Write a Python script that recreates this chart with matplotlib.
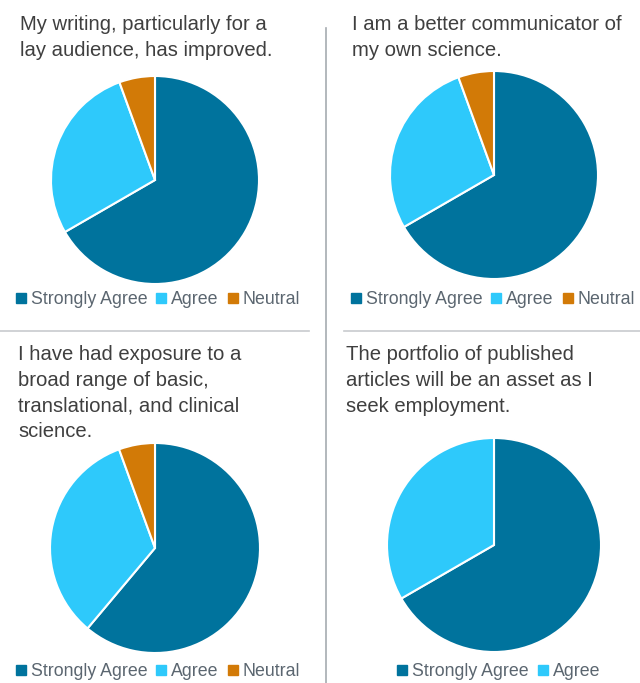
import matplotlib
matplotlib.use('Agg')
import matplotlib.pyplot as plt
from matplotlib.lines import Line2D

plt.rcParams['font.family'] = ['Liberation Sans', 'DejaVu Sans']

W, H = 640, 683

labels = ['Strongly Agree', 'Agree', 'Neutral']
colors = ['#00739d', '#2ec9fb', '#d27a07']

titles = [
    'My writing, particularly for a\nlay audience, has improved.',
    'I am a better communicator of\nmy own science.',
    'I have had exposure to a\nbroad range of basic,\ntranslational, and clinical\nscience.',
    'The portfolio of published\narticles will be an asset as I\nseek employment.',
]
writing = [12, 5, 1]
communicator = [12, 5, 1]
exposure = [11, 6, 1]
portfolio = [12, 6]
values = [writing, communicator, exposure, portfolio]

# pixel layout: title x, title top y, pie centre x, centre y, radius, legend x, legend y
layout = [
    (20, 15, 155, 180, 104, 156, 300),
    (352, 15, 494, 175, 104, 491, 300),
    (18, 345, 155, 548, 105, 156, 672),
    (346, 345, 494, 545, 107, 497, 672),
]

fig = plt.figure(figsize=(W / 100, H / 100), dpi=100)

for title, vals, (tx, ty, cx, cy, r, lx, ly) in zip(titles, values, layout):
    ax = fig.add_axes([(cx - r) / W, (H - cy - r) / H, 2 * r / W, 2 * r / H])
    ax.pie(vals, colors=colors[:len(vals)], startangle=90, counterclock=False,
           wedgeprops={'edgecolor': 'white', 'linewidth': 1.5})
    ax.set_xlim(-1, 1)
    ax.set_ylim(-1, 1)
    fig.text(tx / W, 1 - ty / H, title, ha='left', va='top', fontsize=14.6,
             color='#3f3f3f', linespacing=1.45)
    handles = [Line2D([], [], marker='s', linestyle='none', markersize=7,
                      color=c) for c in colors[:len(vals)]]
    fig.legend(handles, labels[:len(vals)], loc='center', ncol=len(vals),
               bbox_to_anchor=(lx / W, 1 - ly / H), frameon=False,
               fontsize=12.8, handletextpad=0.05, columnspacing=0.3,
               handlelength=1.0, labelcolor='#5b6670')

# divider lines
fig.add_artist(Line2D([326 / W, 326 / W], [0, 1 - 28 / H], color='#a6abb0', lw=1.2))
fig.add_artist(Line2D([0, 309 / W], [1 - 331 / H] * 2, color='#c8cbce', lw=1.2))
fig.add_artist(Line2D([344 / W, 1], [1 - 331 / H] * 2, color='#c8cbce', lw=1.2))

fig.savefig('out.png', dpi=100)
